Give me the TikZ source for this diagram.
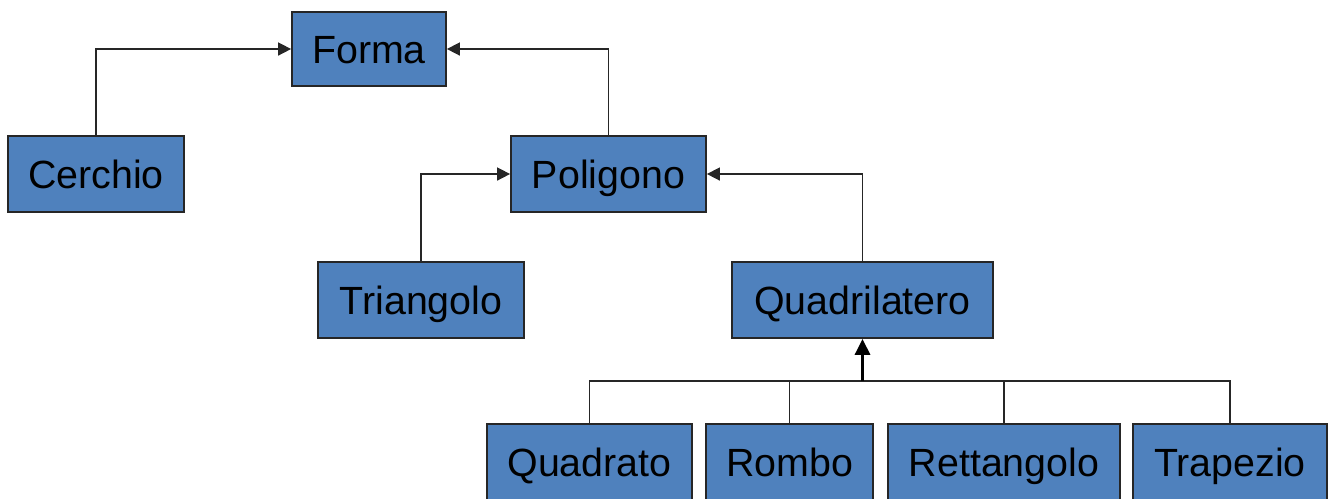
\documentclass[tikz,border=0pt]{standalone}
\usepackage{fontspec}
\setmainfont{Liberation Sans}
\usetikzlibrary{arrows.meta,positioning}
\definecolor{shapeblue}{HTML}{4F81BD}

\begin{document}
\begin{tikzpicture}[
    font=\fontsize{11.2}{13}\selectfont,
    cls/.style={draw=black!85, fill=shapeblue, line width=0.5pt, minimum height=0.76cm, inner sep=0pt, text height=9pt, text depth=1pt, align=center},
    link/.style={draw=black!85, line width=0.45pt},
    arrow/.style={link, -{Triangle[length=1.3mm, width=1.3mm]}},
    bigarrow/.style={draw=black, line width=0.9pt, -{Triangle[length=1.6mm, width=1.5mm]}}
]
\useasboundingbox (0,0) rectangle (13.28,4.98);

\node[cls, minimum width=1.54cm, minimum height=0.74cm] (forma) at (3.69,4.49) {Forma};
\node[cls, minimum width=1.76cm] (cerchio) at (0.96,3.24) {Cerchio};
\node[cls, minimum width=1.95cm] (poligono) at (6.085,3.24) {Poligono};
\node[cls, minimum width=2.06cm] (triangolo) at (4.21,1.98) {Triangolo};
\node[cls, minimum width=2.61cm] (quadrilatero) at (8.625,1.98) {Quadrilatero};

\node[cls, minimum width=2.05cm] (quadrato) at (5.895,0.36) {Quadrato};
\node[cls, minimum width=1.67cm] (rombo) at (7.895,0.36) {Rombo};
\node[cls, minimum width=2.32cm] (rettangolo) at (10.04,0.36) {Rettangolo};
\node[cls, minimum width=1.94cm] (trapezio) at (12.30,0.36) {Trapezio};

\draw[arrow] (cerchio.north) |- (forma.west);
\draw[arrow] (poligono.north) |- (forma.east);
\draw[arrow] (triangolo.north) |- (poligono.west);
\draw[arrow] (quadrilatero.north) |- (poligono.east);

% bus under Quadrilatero
\coordinate (bus) at (quadrilatero.south |- 0,1.17);
\draw[link] (quadrato.north) |- (trapezio.north |- bus) -- (trapezio.north);
\draw[link] (rombo.north) -- (rombo.north |- bus);
\draw[link] (rettangolo.north) -- (rettangolo.north |- bus);
\draw[bigarrow] (bus) -- (quadrilatero.south);
\end{tikzpicture}
\end{document}
